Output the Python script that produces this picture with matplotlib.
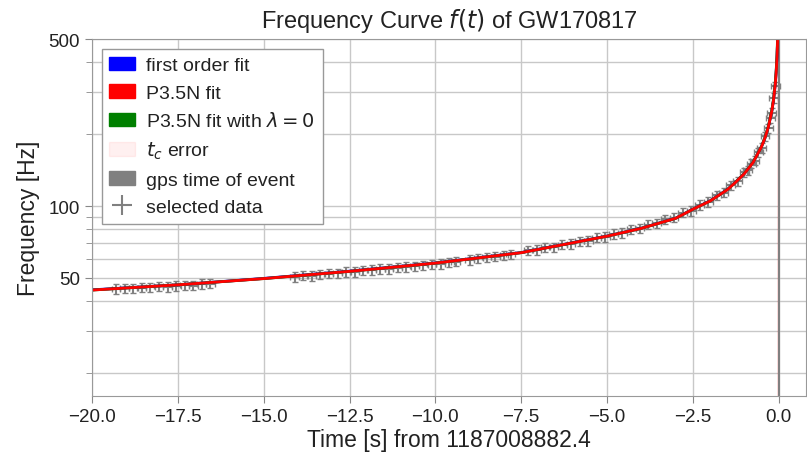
import numpy as np
import matplotlib
matplotlib.use("Agg")
import matplotlib.pyplot as plt
from matplotlib.patches import Patch
from matplotlib.ticker import FixedLocator, NullFormatter

plt.rcParams["font.family"] = ["Liberation Sans", "DejaVu Sans"]

# fit curves
t_fit = [-20.5, -20, -17.5, -15, -12.5, -10, -7.5, -5, -4, -3, -2.5, -2, -1.5, -1.25, -1,
         -0.75, -0.5, -0.4, -0.3, -0.2, -0.15, -0.1, -0.075, -0.05, -0.03, -0.02]
f_first = [44.1, 44.6, 46.8, 49.8, 53.4, 57.8, 63.9, 74.9, 80.8, 89.0, 97.1, 105.2, 117.2,
           126.3, 137.0, 152.3, 177.8, 193.2, 215.3, 250.6, 279.1, 324.9, 363, 421, 510, 590]
f_p35 = [44.0, 44.5, 46.8, 49.7, 53.3, 57.7, 63.8, 74.8, 80.7, 88.9, 97.0, 105.0, 117.0,
         126.0, 136.8, 152.0, 177.4, 192.9, 214.9, 250.2, 278.7, 324.4, 362, 420, 509, 588]
f_lam0 = [44.0, 44.5, 46.8, 49.7, 53.3, 57.7, 63.8, 74.8, 80.7, 88.9, 97.0, 105.0, 117.1,
          126.1, 137.0, 152.3, 177.9, 193.6, 216.0, 252.0, 281.5, 329.0, 368, 430, 525, 610]

# selected data points with error bars
t_data = [-19.3, -19.05, -18.8, -18.55, -18.3, -18.05, -17.8, -17.55, -17.3, -17.05, -16.8, -16.55,
          -14.1, -13.85, -13.6, -13.35, -13.1, -12.85, -12.6, -12.35, -12.1, -11.85, -11.6,
          -11.35, -11.1, -10.85, -10.6, -10.35, -10.1, -9.85, -9.6, -9.4,
          -9.0, -8.75, -8.5, -8.25, -8.0, -7.8,
          -7.3, -7.05, -6.8, -6.55, -6.3, -6.05, -5.8, -5.55, -5.3, -5.05, -4.8, -4.55, -4.3,
          -4.05, -3.8, -3.55, -3.3, -3.05, -2.8, -2.55, -2.3, -2.05, -1.8, -1.6, -1.4, -1.2,
          -1.0, -0.9, -0.8, -0.7, -0.6, -0.5, -0.4, -0.3, -0.25, -0.2, -0.15, -0.1]
f_data = [45.0, 45.3, 45.2, 45.6, 45.7, 46.1, 45.9, 46.4, 46.6, 46.5, 47.2, 47.4,
          50.6, 51.2, 51.0, 51.9, 52.1, 52.3, 53.0, 53.1, 53.8, 54.0, 54.6,
          54.5, 55.3, 55.6, 56.0, 56.5, 57.1, 57.3, 58.2, 58.6,
          59.6, 60.5, 61.0, 61.4, 62.3, 62.9,
          65.3, 65.5, 67.2, 67.3, 68.9, 69.4, 71.3, 71.6, 73.8, 74.2, 76.5, 77.1, 79.8,
          80.6, 83.6, 84.7, 88.1, 89.5, 93.8, 95.6, 101.0, 104.0, 110.8, 113.9, 122.0, 126.8,
          138.5, 141.0, 150.5, 155.0, 168.0, 175.5, 196.0, 212.0, 234.0, 246.0, 284.0, 318.0]
t_err = [0.13] * len(t_data)
f_err = [0.045 * f for f in f_data]

gps_time = 0.0
tc_err = 0.05

fig = plt.figure(figsize=(8.07, 4.56), dpi=100)
ax = fig.add_axes([0.114, 0.129, 0.885, 0.783])

ax.axvspan(gps_time - tc_err, gps_time + tc_err, color="red", alpha=0.12, lw=0)
ax.axvline(gps_time, color="grey", lw=1.5)
ax.errorbar(t_data, f_data, xerr=t_err, yerr=f_err, fmt="none", ecolor="grey",
            elinewidth=1.5, capsize=2.5)
ax.plot(t_fit, f_first, color="blue", lw=2)
ax.plot(t_fit, f_lam0, color="green", lw=2)
ax.plot(t_fit, f_p35, color="red", lw=2)

ax.set_yscale("log")
ax.set_ylim(16, 500)
ax.set_xlim(-20, 0.8)
ax.yaxis.set_major_locator(FixedLocator([50, 100, 500]))
ax.yaxis.set_minor_locator(FixedLocator([20, 30, 40, 60, 70, 80, 90, 200, 300, 400]))
ax.yaxis.set_minor_formatter(NullFormatter())
ax.set_yticklabels(["50", "100", "500"])
ax.set_xticks(np.arange(-20, 0.1, 2.5))
ax.grid(True, which="both", color="#c8c8c8", lw=1)
ax.set_axisbelow(True)
for s in ax.spines.values():
    s.set_color("#999999")
ax.tick_params(which="both", colors="#888888", labelcolor="#222222", labelsize=13.5)
ax.tick_params(axis="x", which="major", length=5)
ax.tick_params(axis="y", which="major", length=5)
ax.tick_params(axis="y", which="minor", length=4)

ax.set_xlabel("Time [s] from 1187008882.4", fontsize=16.5, color="#222222", labelpad=2)
ax.set_ylabel("Frequency [Hz]", fontsize=16.5, color="#222222", labelpad=6)
ax.set_title("Frequency Curve $f(t)$ of GW170817", fontsize=17, color="#222222", pad=9)

eb_handle = ax.errorbar([], [], xerr=[], yerr=[], fmt="none", ecolor="grey", capsize=3)
handles = [Patch(color="blue"), Patch(color="red"), Patch(color="green"),
           Patch(color="red", alpha=0.06), Patch(color="grey"), eb_handle]
labels = ["first order fit", "P3.5N fit", r"P3.5N fit with $\lambda=0$",
          "$t_c$ error", "gps time of event", "selected data"]
leg = ax.legend(handles, labels, loc="upper left", fontsize=14, fancybox=False,
                edgecolor="#999999", framealpha=1, labelspacing=0.5,
                handlelength=1.3, handletextpad=0.6, borderpad=0.4)
for txt in leg.get_texts():
    txt.set_color("#222222")

fig.savefig("out.png", dpi=100)
